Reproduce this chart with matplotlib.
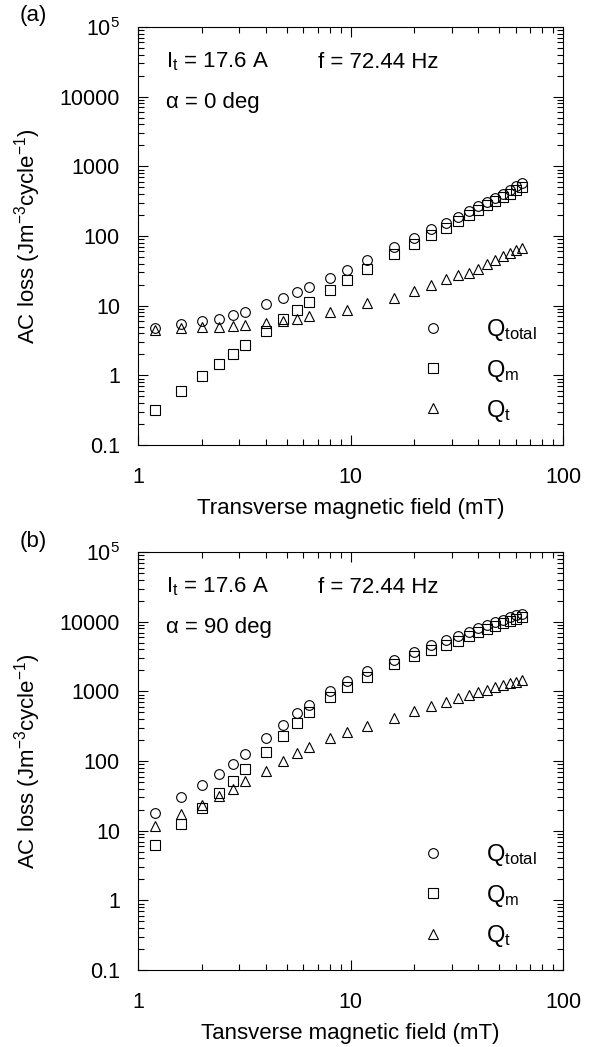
import numpy as np
import matplotlib
matplotlib.use("Agg")
import matplotlib.pyplot as plt
from matplotlib.lines import Line2D
from matplotlib.ticker import LogLocator, FixedFormatter, FixedLocator, NullFormatter

plt.rcParams['font.family'] = ['Liberation Sans', 'DejaVu Sans']
plt.rcParams['mathtext.fontset'] = 'custom'
plt.rcParams['mathtext.rm'] = 'Liberation Sans'
plt.rcParams['mathtext.it'] = 'Liberation Sans:italic'

# pole poprzeczne (mT)
pole = [1.2, 1.6, 2.0, 2.4, 2.8, 3.2, 4.0, 4.8, 5.6, 6.4, 8.0, 9.6, 12, 16, 20,
        24, 28, 32, 36, 40, 44, 48, 52, 56, 60, 64]

# (a) alpha = 0 deg
q_total_a = [4.8, 5.4, 6.0, 6.5, 7.3, 8.2, 10.4, 12.7, 15.5, 18.4, 25, 32, 45, 69, 95,
             126, 156, 188, 227, 268, 312, 356, 406, 464, 524, 584]
q_m_a = [0.32, 0.59, 0.98, 1.45, 2.0, 2.7, 4.3, 6.4, 8.7, 11.2, 16.7, 23, 34, 55, 78,
         105, 131, 165, 199, 234, 279, 319, 364, 406, 454, 507]
q_t_a = [4.5, 4.7, 4.9, 5.0, 5.1, 5.3, 5.7, 6.1, 6.5, 7.1, 8.0, 8.8, 10.8, 13.0, 16.2,
         20.1, 23.8, 27.1, 29.9, 34, 40, 45, 51, 57, 62, 68]

# (b) alpha = 90 deg
q_total_b = [18.2, 30, 45.5, 66, 92, 126, 213, 324, 482, 641, 1020, 1390, 1980, 2850,
             3710, 4570, 5460, 6300, 7180, 8020, 8850, 9780, 10570, 11540, 12330, 13030]
q_m_b = [6.3, 12.5, 21, 34.5, 52.5, 76, 137, 228, 350, 498, 818, 1140, 1600, 2490,
         3180, 3870, 4620, 5330, 6160, 7030, 7930, 8770, 9570, 10330, 11040, 11540]
q_t_b = [11.7, 17.4, 23.5, 32, 40, 51, 73, 101, 130, 158, 211, 260, 321, 413, 526,
         608, 701, 791, 874, 975, 1054, 1151, 1230, 1315, 1375, 1452]

y_ticki = [0.1, 1, 10, 100, 1000, 10000, 1e5]
y_etykiety = ['0.1', '1', '10', '100', '1000', '10000', '$10^5$']
x_ticki = [1, 10, 100]
x_etykiety = ['1', '10', '100']

panele = [
    ('(a)', q_total_a, q_m_a, q_t_a, 'α = 0 deg', 'Transverse magnetic field (mT)'),
    ('(b)', q_total_b, q_m_b, q_t_b, 'α = 90 deg', 'Tansverse magnetic field (mT)'),
]

fig = plt.figure(figsize=(5.98, 10.47), dpi=100)
dol = [0.575, 0.0735]
ms = 7
fs = 15.5

for i, (lit, qt_, qm_, qtr_, alfa, xlab) in enumerate(panele):
    ax = fig.add_axes([0.2308, dol[i], 0.7107, 0.3992])
    ax.set_xscale('log')
    ax.set_yscale('log')
    ax.plot(pole, qt_, 'o', mfc='none', mec='black', ms=ms, mew=0.8)
    ax.plot(pole, qm_, 's', mfc='none', mec='black', ms=ms, mew=0.8)
    ax.plot(pole, qtr_, '^', mfc='none', mec='black', ms=ms, mew=0.8)
    ax.set_xlim(1, 100)
    ax.set_ylim(0.1, 1e5)

    ax.yaxis.set_major_locator(FixedLocator(y_ticki))
    ax.yaxis.set_major_formatter(FixedFormatter(y_etykiety))
    ax.yaxis.set_minor_locator(LogLocator(base=10, subs=np.arange(2, 10), numticks=20))
    ax.yaxis.set_minor_formatter(NullFormatter())
    ax.xaxis.set_major_locator(FixedLocator(x_ticki))
    ax.xaxis.set_major_formatter(FixedFormatter(x_etykiety))
    ax.xaxis.set_minor_locator(LogLocator(base=10, subs=np.arange(2, 10), numticks=20))
    ax.xaxis.set_minor_formatter(NullFormatter())

    ax.tick_params(which='both', direction='in', top=True, right=True, width=0.8)
    ax.tick_params(which='major', length=7)
    ax.tick_params(which='minor', length=4)
    ax.tick_params(axis='x', which='major', pad=16, labelsize=fs)
    ax.tick_params(axis='y', which='major', pad=13, labelsize=fs)
    for s in ax.spines.values():
        s.set_linewidth(0.8)

    ax.set_xlabel(xlab, fontsize=16, labelpad=7)
    ax.set_ylabel(r'AC loss (Jm$^{-3}$cycle$^{-1}$)', fontsize=16, labelpad=12)

    ax.text(0.067, 0.916, r'I$_{\rm t}$ = 17.6 A', transform=ax.transAxes,
            fontsize=16, va='center')
    ax.text(0.424, 0.916, 'f = 72.44 Hz', transform=ax.transAxes,
            fontsize=16, va='center')
    ax.text(0.067, 0.82, alfa, transform=ax.transAxes, fontsize=16, va='center')

    uchwyty = [Line2D([], [], ls='none', marker=m, mfc='none', mec='black',
                      ms=7, mew=0.8) for m in ['o', 's', '^']]
    ax.legend(uchwyty, [r'Q$_{\rm total}$', r'Q$_{\rm m}$', r'Q$_{\rm t}$'],
              loc='lower left', bbox_to_anchor=(0.602, 0.0), frameon=False,
              fontsize=17, handletextpad=1.52, labelspacing=0.6, handlelength=1.5)

    fig.text(0.032, 1 - (16 + i * 525) / 1047, lit, fontsize=16, va='center')

fig.savefig('out.png', dpi=100)
